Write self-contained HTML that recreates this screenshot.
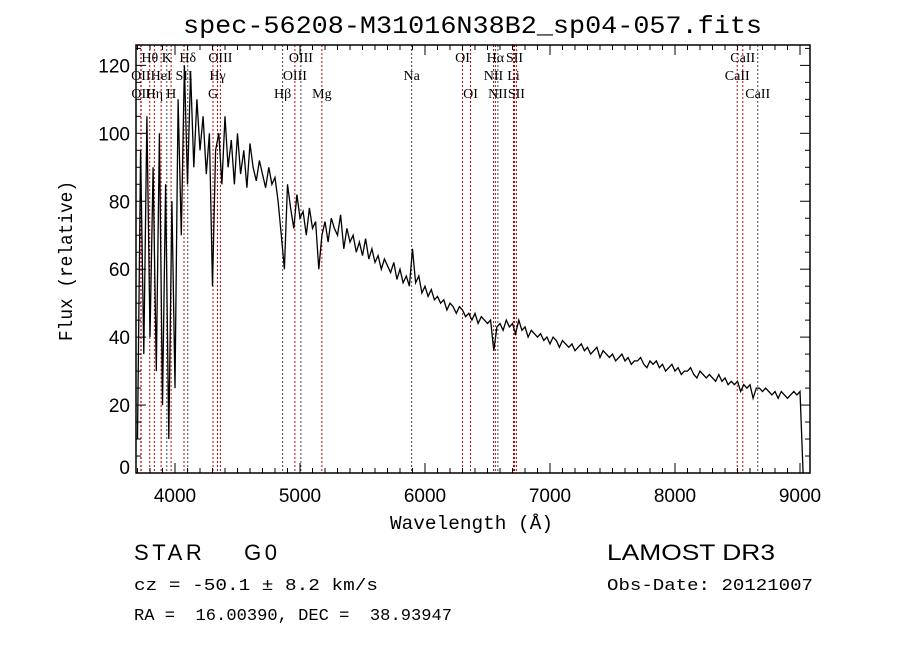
<!DOCTYPE html>
<html><head><meta charset="utf-8"><style>
body{margin:0;background:#fff;}
</style></head><body>
<svg id="chart" width="900" height="649" xmlns="http://www.w3.org/2000/svg" font-family="Liberation Sans, sans-serif">
<rect width="900" height="649" fill="#fff"/>
<text x="183" y="33" font-size="25" textLength="579" lengthAdjust="spacingAndGlyphs" font-family="Liberation Mono, monospace">spec-56208-M31016N38B2_sp04-057.fits</text>
<g id="lines"></g><g id="labels"></g>
<path id="spec" fill="none" stroke="#000" stroke-width="1.3"/>
<g id="ticks"></g>
<rect x="136" y="45" width="674" height="428" fill="none" stroke="#000" stroke-width="1.5"/>
<text x="390" y="529" font-size="19" textLength="163" lengthAdjust="spacingAndGlyphs" font-family="Liberation Mono, monospace">Wavelength (Å)</text>
<text transform="translate(72,341) rotate(-90)" font-size="19" textLength="160" lengthAdjust="spacingAndGlyphs" font-family="Liberation Mono, monospace">Flux (relative)</text>
<text x="134" y="560" font-size="22" textLength="143" lengthAdjust="spacing" font-family="Liberation Sans, sans-serif" xml:space="preserve">STAR    G0</text>
<text x="607" y="560" font-size="22" textLength="168" lengthAdjust="spacingAndGlyphs" font-family="Liberation Sans, sans-serif">LAMOST DR3</text>
<text x="134" y="590" font-size="17" textLength="244" lengthAdjust="spacingAndGlyphs" font-family="Liberation Mono, monospace" xml:space="preserve">cz = -50.1 ± 8.2 km/s</text>
<text x="607" y="590" font-size="17" textLength="206" lengthAdjust="spacingAndGlyphs" font-family="Liberation Mono, monospace">Obs-Date: 20121007</text>
<text x="134" y="620" font-size="17" textLength="318" lengthAdjust="spacingAndGlyphs" font-family="Liberation Mono, monospace" xml:space="preserve">RA =  16.00390, DEC =  38.93947</text>
</svg>
<script>
const waveStart = 3700;
const waveStep = 25;
const flux = [10,95,35,105,40,90,30,100,
20,85,10,80,25,110,70,120,
85,118,90,110,95,105,88,100,
55,95,100,85,105,90,98,85,
100,88,95,84,97,90,86,92,
88,84,90,85,87,80,70,60,
85,78,72,82,75,77,70,78,
72,74,60,70,74,68,75,72,
70,76,66,72,68,70,65,68,
64,69,63,66,62,64,60,63,
61,59,62,57,60,56,58,55,
66,56,58,53,55,52,54,51,
52,50,51,48,50,49,47,49,
48,46,47,45,47,44,46,45,
44,45,36,43,44,42,45,43,
44,41,45,42,43,40,42,41,
40,41,39,40,38,40,39,37,
39,38,37,38,36,37,38,36,
37,35,36,37,34,36,35,34,
35,33,34,35,33,34,32,33,
33,34,32,31,33,32,33,31,
32,30,31,32,30,31,29,30,
30,31,29,28,30,29,28,29,
28,27,29,27,28,26,27,26,
27,24,26,25,26,22,25,25,
24,25,24,23,24,22,24,23,
22,23,24,23,24,0];
const lineWaves = [3798,3934,4102,4363,5007,6300,6563,6716,8542,
3727,3889,4072,4340,4959,5893,6548,6708,8498,
3729,3835,3969,4304,4861,5175,6364,6583,6731,8662];
const lineNames = ["Hθ","K","Hδ","OIII","OIII","OI","Hα","SII","CaII",
"OII","HeI","SII","Hγ","OIII","Na","NII","Li","CaII",
"OII","Hη","H","G","Hβ","Mg","OI","NII","SII","CaII"];
const lineRows = [0,0,0,0,0,0,0,0,0,1,1,1,1,1,1,1,1,1,2,2,2,2,2,2,2,2,2,2];
const lineDark = [3934,4102,4861,5007,5893,6548,6583,8662];
const xTicks = [4000,5000,6000,7000,8000,9000];
const yTicks = [0,20,40,60,80,100,120];

const X0=136,X1=810,Y0=473,Y1=45,WMIN=3688,WMAX=9080,FMIN=0,FMAX=126;
const xs=w=>X0+(w-WMIN)/(WMAX-WMIN)*(X1-X0);
const ys=f=>Y0-(f-FMIN)/(FMAX-FMIN)*(Y0-Y1);
const NS="http://www.w3.org/2000/svg";
function mk(t,a,p){const e=document.createElementNS(NS,t);for(const k in a)e.setAttribute(k,a[k]);p.appendChild(e);return e;}

let d="";
flux.forEach((f,i)=>{d+=(i?"L":"M")+xs(waveStart+i*waveStep).toFixed(1)+","+ys(f).toFixed(1);});
document.getElementById("spec").setAttribute("d",d);

const gl=document.getElementById("lines"),gt=document.getElementById("labels");
const rowY=[62,80,98];
lineWaves.forEach((w,i)=>{
  const x=xs(w);
  const l=mk("line",{x1:x,x2:x,y1:Y1,y2:Y0,stroke:lineDark.includes(w)?"#444":"#c00000","stroke-width":1,"stroke-dasharray":"2,2"},gl);
  
  
  const t=mk("text",{x:x,y:rowY[lineRows[i]],"font-size":14,"text-anchor":"middle","font-family":"Liberation Serif, serif"},gt);
  t.textContent=lineNames[i];
  
  
});

const gk=document.getElementById("ticks");
for(let w=3700;w<=9000;w+=100){
  const x=xs(w),maj=w%1000===0,L=maj?10:5;
  mk("line",{x1:x,x2:x,y1:Y0,y2:Y0-L,stroke:"#000"},gk);
  mk("line",{x1:x,x2:x,y1:Y1,y2:Y1+L,stroke:"#000"},gk);
}
xTicks.forEach(w=>{
  const t=mk("text",{x:xs(w),y:502,"font-size":19,"text-anchor":"middle"},gk);
  t.textContent=w;
  
  
});
for(let f=0;f<=125;f+=5){
  const y=ys(f),L=f%20===0?10:5;
  mk("line",{x1:X0,x2:X0+L,y1:y,y2:y,stroke:"#000"},gk);
  mk("line",{x1:X1,x2:X1-L,y1:y,y2:y,stroke:"#000"},gk);
}
yTicks.forEach(f=>{
  const t=mk("text",{x:130,y:ys(f)+7-(f===0?6:0),"font-size":19,"text-anchor":"end"},gk);
  t.textContent=f;
  
  
});
</script>
</body></html>
